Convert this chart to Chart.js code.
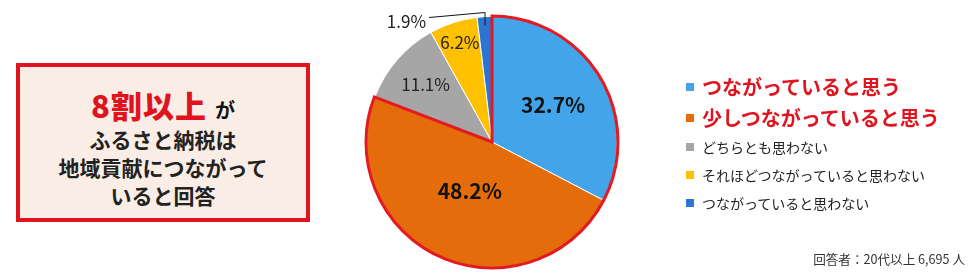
<!DOCTYPE html>
<html lang="ja">
<head>
<meta charset="utf-8">
<script src="https://cdn.jsdelivr.net/npm/chart.js@4.4.1/dist/chart.umd.min.js"></script>
<style>
body{margin:0;background:#fff;font-family:"Noto Sans CJK JP",sans-serif;}
#wrap{position:relative;width:980px;height:280px;overflow:hidden;}
#pie{position:absolute;left:0;top:0;}
.box{position:absolute;left:16px;top:63px;width:294px;height:159px;box-sizing:border-box;border:4px solid #e0141e;background:#f9ede5;text-align:center;padding-top:18px;}
.box .head{height:40px;line-height:40px;font-weight:bold;color:#111;font-size:20px;}
.box .head b{color:#e0141e;font-size:31px;letter-spacing:1px;margin-right:8px;}
.box .line{height:28px;line-height:28px;font-size:21px;font-weight:bold;color:#222;}
.legend{position:absolute;left:686px;top:71px;margin:0;padding:0;list-style:none;}
.legend li{height:28px;display:flex;align-items:center;font-size:14px;color:#222;white-space:nowrap;}
.legend li.hl{height:31px;font-size:20px;font-weight:bold;color:#e0141e;}
.legend i{display:inline-block;width:8px;height:8px;margin-right:8px;}
.note{position:absolute;right:15px;top:249px;font-size:12.6px;color:#333;white-space:nowrap;}
</style>
</head>
<body>
<div id="wrap">
  <canvas id="pie" width="980" height="280"></canvas>
  <div class="box" id="box"></div>
  <ul class="legend" id="legend"></ul>
  <div class="note" id="note"></div>
</div>
<script>
const labels = ['つながっていると思う', '少しつながっていると思う', 'どちらとも思わない', 'それほどつながっていると思わない', 'つながっていると思わない'];
const values = [32.7, 48.2, 11.1, 6.2, 1.9];
const colors = ['#42a5ea', '#e46c0a', '#a6a6a6', '#ffc000', '#2b74d2'];
const highlighted = [0, 1];
const headline = ['8割以上', 'が'];
const boxLines = ['ふるさと納税は', '地域貢献につながって', 'いると回答'];
const note = '回答者：20代以上 6,695 人';

// where each percentage sits (fraction of radius), last one goes outside
const labelStyle = [
  {r: 0.57, font: 'bold 21px "Noto Sans CJK JP"', color: '#111'},
  {r: 0.43, font: 'bold 21px "Noto Sans CJK JP"', color: '#111'},
  {r: 0.70, font: '17px "Noto Sans CJK JP"', color: '#222'},
  {r: 0.83, font: '17px "Noto Sans CJK JP"', color: '#222'},
  {r: 0.93, font: '17px "Noto Sans CJK JP"', color: '#222', outside: true}
];

// left box
const box = document.getElementById('box');
box.innerHTML = '<div class="head"><b>' + headline[0] + '</b>' + headline[1] + '</div>' +
  boxLines.map(t => '<div class="line">' + t + '</div>').join('');

// legend
const legend = document.getElementById('legend');
labels.forEach((t, i) => {
  const li = document.createElement('li');
  if (highlighted.includes(i)) li.className = 'hl';
  li.innerHTML = '<i style="background:' + colors[i] + '"></i>' + t;
  legend.appendChild(li);
});
document.getElementById('note').textContent = note;

const pieLabels = {
  id: 'pieLabels',
  afterDatasetsDraw(chart) {
    const ctx = chart.ctx;
    const arcs = chart.getDatasetMeta(0).data;
    const first = arcs[highlighted[0]];
    const last = arcs[highlighted[highlighted.length - 1]];
    const cx = first.x, cy = first.y, R = first.outerRadius;

    // red outline round the highlighted group
    ctx.save();
    ctx.strokeStyle = '#e31a22';
    ctx.lineWidth = 3;
    ctx.lineJoin = 'miter';
    ctx.beginPath();
    ctx.moveTo(cx, cy);
    ctx.arc(cx, cy, R + 0.5, first.startAngle, last.endAngle);
    ctx.closePath();
    ctx.stroke();
    ctx.restore();

    // percentages
    arcs.forEach((arc, i) => {
      const s = labelStyle[i];
      const mid = (arc.startAngle + arc.endAngle) / 2;
      const x = cx + Math.cos(mid) * R * s.r;
      const y = cy + Math.sin(mid) * R * s.r;
      const txt = values[i].toFixed(1) + '%';
      ctx.save();
      ctx.font = s.font;
      ctx.fillStyle = s.color;
      ctx.textBaseline = 'middle';
      if (s.outside) {
        const topY = cy - R - 4;
        const endX = x - 56;
        const endY = topY + 5;
        ctx.strokeStyle = '#111';
        ctx.lineWidth = 1;
        ctx.beginPath();
        ctx.moveTo(x, y);
        ctx.lineTo(x, topY);
        ctx.lineTo(endX, endY);
        ctx.stroke();
        ctx.textAlign = 'right';
        ctx.fillText(txt, endX - 3, endY + 4);
      } else {
        ctx.textAlign = 'center';
        ctx.fillText(txt, x, y);
      }
      ctx.restore();
    });
  }
};

new Chart(document.getElementById('pie'), {
  type: 'pie',
  data: {
    labels: labels,
    datasets: [{
      data: values,
      backgroundColor: colors,
      borderColor: '#ffffff',
      borderWidth: 1
    }]
  },
  options: {
    responsive: false,
    animation: false,
    events: [],
    layout: {padding: {left: 366, right: 362, top: 16, bottom: 12}},
    plugins: {legend: {display: false}, tooltip: {enabled: false}}
  },
  plugins: [pieLabels]
});
</script>
</body>
</html>
